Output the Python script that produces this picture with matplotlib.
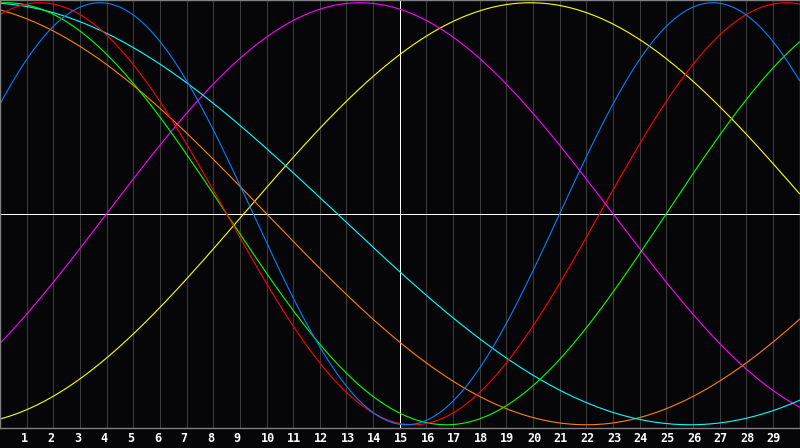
import numpy as np
import matplotlib
matplotlib.use("Agg")
import matplotlib.pyplot as plt

# biorhythm cycles: period (days) and day of the peak within the window
cycle_names = ["Physical", "Emotional", "Intellectual", "Intuitive",
               "Aesthetic", "Awareness", "Spiritual"]
periods = [23, 28, 33, 38, 43, 48, 53]
peak_days = [3.75, 1.5, 0.25, 13.5, 19.9, -2.0, -0.6]
colors = ["#0080ff", "#ff0000", "#00ff00", "#ff00ff",
          "#ffff00", "#ff8000", "#00ffff"]

days = list(range(1, 30))
today = 15
n_days = 30

bg = "#060609"
fig = plt.figure(figsize=(8, 4.48), dpi=100, facecolor=bg)
ax = fig.add_axes([0, 20.5 / 448, 799.5 / 800, 427.5 / 448])
ax.set_facecolor(bg)
ax.set_xlim(0, n_days)
ax.set_ylim(-1.013, 1.013)

for d in days:
    c = "#ffffff" if d == today else "#3c3c3c"
    ax.axvline(d, color=c, lw=0.7, zorder=1, antialiased=False)
ax.axhline(0, color="#ffffff", lw=0.7, zorder=1, antialiased=False)

t = np.linspace(0, n_days, 1601)
order = [4, 3, 5, 6, 2, 1, 0]
for i in order:
    v = np.cos(2 * np.pi * (t - peak_days[i]) / periods[i])
    ax.plot(t, v, color=colors[i], lw=0.8, zorder=2, label=cycle_names[i])

for s in ax.spines.values():
    s.set_color("#808080")
    s.set_linewidth(1.0)
ax.set_xticks([])
ax.set_yticks([])

for d in days:
    ax.text(d - 0.225, -1.013 - 0.052, str(d), color="white", ha="left",
            va="center", fontsize=8.5, fontweight="bold",
            family="DejaVu Sans Mono", clip_on=False)

fig.savefig("out.png", dpi=100, facecolor=bg)
